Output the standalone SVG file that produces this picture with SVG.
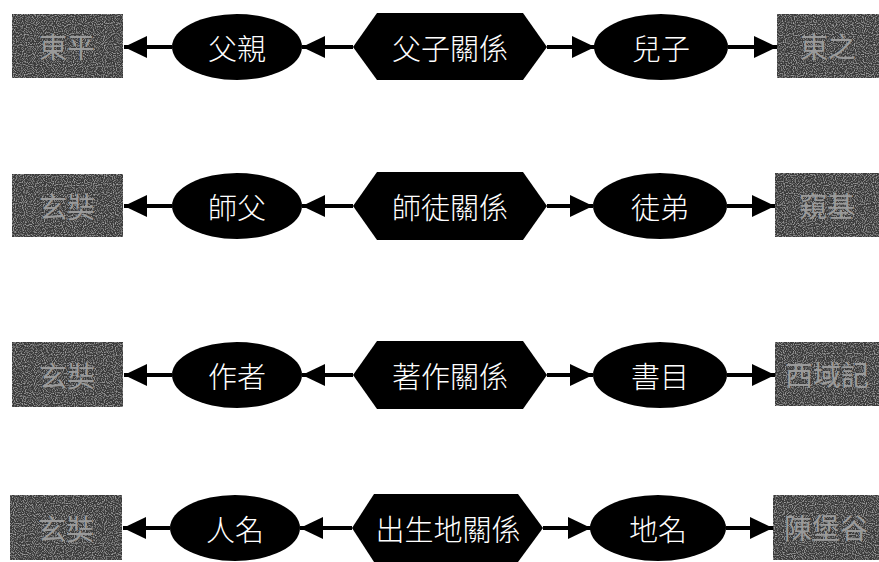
<svg xmlns="http://www.w3.org/2000/svg" width="879" height="562" viewBox="0 0 879 562">
<style>
.box{fill:#3a3a3a;}
.btxt{fill:#9a9a9a;font-family:"Noto Sans CJK TC","Noto Sans CJK SC",sans-serif;font-size:28px;text-anchor:middle;dominant-baseline:central;}
.ell{fill:#000;}
.hex{fill:#000;}
.wtxt{fill:#fff;font-family:"Noto Sans CJK TC","Noto Sans CJK SC",sans-serif;font-weight:300;font-size:29px;text-anchor:middle;dominant-baseline:central;}
.con{stroke:#000;stroke-width:4;fill:none;marker-end:url(#ah);}
</style>
<defs>
<marker id="ah" markerUnits="userSpaceOnUse" markerWidth="24" markerHeight="22" refX="23" refY="11" orient="auto">
<path d="M0,0 L23,11 L0,22 Z" fill="#000"/>
</marker>
<filter id="noise" x="0" y="0" width="100%" height="100%">
<feTurbulence type="fractalNoise" baseFrequency="0.9" numOctaves="1" seed="3" result="n"/>
<feColorMatrix in="n" type="matrix" values="0 0 0 0 0.7  0 0 0 0 0.7  0 0 0 0 0.7  0 0 0 1.6 -0.75" result="s"/>
<feComposite in="s" in2="SourceGraphic" operator="in" result="sp"/>
<feMerge><feMergeNode in="SourceGraphic"/><feMergeNode in="sp"/></feMerge>
</filter>
</defs>
<rect width="879" height="562" fill="#fff"/>

<g id="connectors">
<line class="con" x1="172" y1="47" x2="124" y2="47"/>
<line class="con" x1="353" y1="47" x2="302" y2="47"/>
<line class="con" x1="547" y1="47" x2="595" y2="47"/>
<line class="con" x1="728" y1="47" x2="777" y2="47"/>

<line class="con" x1="172" y1="206" x2="124" y2="206"/>
<line class="con" x1="353" y1="206" x2="302" y2="206"/>
<line class="con" x1="547" y1="206" x2="593" y2="206"/>
<line class="con" x1="727" y1="206" x2="775" y2="206"/>

<line class="con" x1="172" y1="375" x2="124" y2="375"/>
<line class="con" x1="353" y1="375" x2="302" y2="375"/>
<line class="con" x1="547" y1="375" x2="593" y2="375"/>
<line class="con" x1="727" y1="375" x2="775" y2="375"/>

<line class="con" x1="170" y1="528" x2="123" y2="528"/>
<line class="con" x1="352" y1="528" x2="300" y2="528"/>
<line class="con" x1="543" y1="528" x2="591" y2="528"/>
<line class="con" x1="726" y1="528" x2="773" y2="528"/>
</g>

<!-- Row 1 -->
<g id="r1-left-box"><rect class="box" x="12" y="14" width="111" height="64" filter="url(#noise)"/><text class="btxt" x="67" y="46">東平</text></g>
<g id="r1-father"><ellipse class="ell" cx="237" cy="47" rx="65" ry="33"/><text class="wtxt" x="237" y="47">父親</text></g>
<g id="r1-relation"><polygon class="hex" points="353,47 377,13 523,13 547,47 523,80 377,80"/><text class="wtxt" x="450" y="47">父子關係</text></g>
<g id="r1-son"><ellipse class="ell" cx="661" cy="47" rx="67" ry="33"/><text class="wtxt" x="661" y="47">兒子</text></g>
<g id="r1-right-box"><rect class="box" x="777" y="14" width="102" height="64" filter="url(#noise)"/><text class="btxt" x="828" y="46">東之</text></g>

<!-- Row 2 -->
<g id="r2-left-box"><rect class="box" x="12" y="174" width="111" height="63" filter="url(#noise)"/><text class="btxt" x="67" y="206">玄奘</text></g>
<g id="r2-master"><ellipse class="ell" cx="237" cy="206" rx="65" ry="33"/><text class="wtxt" x="237" y="206">師父</text></g>
<g id="r2-relation"><polygon class="hex" points="353,206 377,172 523,172 547,206 523,240 377,240"/><text class="wtxt" x="450" y="206">師徒關係</text></g>
<g id="r2-disciple"><ellipse class="ell" cx="660" cy="206" rx="67" ry="33"/><text class="wtxt" x="660" y="206">徒弟</text></g>
<g id="r2-right-box"><rect class="box" x="775" y="173" width="104" height="64" filter="url(#noise)"/><text class="btxt" x="827" y="205">窺基</text></g>

<!-- Row 3 -->
<g id="r3-left-box"><rect class="box" x="12" y="342" width="111" height="65" filter="url(#noise)"/><text class="btxt" x="67" y="375">玄奘</text></g>
<g id="r3-author"><ellipse class="ell" cx="237" cy="375" rx="65" ry="33"/><text class="wtxt" x="237" y="375">作者</text></g>
<g id="r3-relation"><polygon class="hex" points="353,375 377,341 523,341 547,375 523,409 377,409"/><text class="wtxt" x="450" y="375">著作關係</text></g>
<g id="r3-book"><ellipse class="ell" cx="660" cy="375" rx="67" ry="33"/><text class="wtxt" x="660" y="375">書目</text></g>
<g id="r3-right-box"><rect class="box" x="775" y="342" width="104" height="64" filter="url(#noise)"/><text class="btxt" x="827" y="374">西域記</text></g>

<!-- Row 4 -->
<g id="r4-left-box"><rect class="box" x="10" y="495" width="112" height="65" filter="url(#noise)"/><text class="btxt" x="66" y="528">玄奘</text></g>
<g id="r4-person"><ellipse class="ell" cx="235" cy="528" rx="65" ry="33"/><text class="wtxt" x="235" y="528">人名</text></g>
<g id="r4-relation"><polygon class="hex" points="352,528 374,494 518,494 543,528 518,562 374,562"/><text class="wtxt" x="448" y="528">出生地關係</text></g>
<g id="r4-place"><ellipse class="ell" cx="658" cy="528" rx="68" ry="33"/><text class="wtxt" x="658" y="528">地名</text></g>
<g id="r4-right-box"><rect class="box" x="773" y="495" width="106" height="65" filter="url(#noise)"/><text class="btxt" x="826" y="527">陳堡谷</text></g>
</svg>
